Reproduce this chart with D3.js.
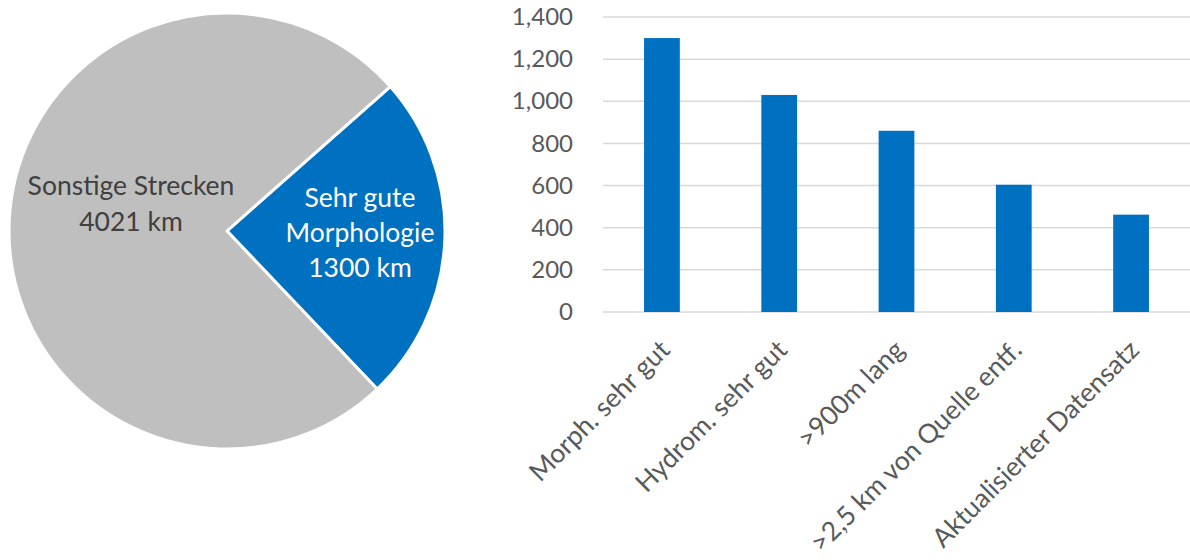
<!DOCTYPE html>
<html>
<head>
<meta charset="utf-8">
<script src="https://cdn.jsdelivr.net/npm/d3@7"></script>
<style>
  body { margin: 0; background: #fff; }
  text { font-family: Lato, "Open Sans", sans-serif; }
</style>
</head>
<body>
<div id="chart"></div>
<script>
// pie data
var pieLabels = [["Sehr gute", "Morphologie", "1300 km"], ["Sonstige Strecken", "4021 km"]];
var pieValues = [1300, 4021];
var pieColors = ["#0070c0", "#bfbfbf"];

// bar data
var barCategories = ["Morph. sehr gut", "Hydrom. sehr gut", ">900m lang", ">2,5 km von Quelle entf.", "Aktualisierter Datensatz"];
var barValues = [1300, 1030, 860, 604, 462];
var yTicks = [0, 200, 400, 600, 800, 1000, 1200, 1400];

var svgWidth = 1190;
var svgHeight = 560;

var svg = d3.select("#chart")
  .append("svg")
  .attr("width", svgWidth)
  .attr("height", svgHeight);

// ---- pie ----
var pieGroup = svg.append("g")
  .attr("transform", "translate(227, 231)");

var radius = 218;
var startDeg = 48.5;

var pie = d3.pie()
  .sort(null)
  .startAngle(startDeg * Math.PI / 180)
  .endAngle((startDeg + 360) * Math.PI / 180);

var arc = d3.arc().innerRadius(0).outerRadius(radius);

var slices = pie(pieValues);

pieGroup.selectAll(".slice")
  .data(slices)
  .enter()
  .append("path")
  .attr("class", "slice")
  .attr("d", arc)
  .attr("fill", (d, i) => pieColors[i])
  .attr("stroke", "#fff")
  .attr("stroke-width", 3)
  .attr("stroke-linejoin", "round");

// slice labels
var labelPos = [[133, -33], [-96, -45]];
var labelColors = ["#ffffff", "#404040"];
slices.forEach(function(d, i) {
  var lines = pieLabels[i];
  var lineH = i === 0 ? 35 : 36;
  var t = pieGroup.append("text")
    .attr("text-anchor", "middle")
    .attr("font-size", "26.5px")
    .attr("fill", labelColors[i]);
  lines.forEach(function(l, j) {
    t.append("tspan")
      .attr("x", labelPos[i][0])
      .attr("y", labelPos[i][1] + j * lineH)
      .attr("dy", "0.35em")
      .text(l);
  });
});

// ---- bar chart ----
var chartMargin = { top: 17, left: 603, right: 0, bottom: 248 };
var chartWidth = svgWidth - chartMargin.left - chartMargin.right;
var chartHeight = svgHeight - chartMargin.top - chartMargin.bottom;

var chartGroup = svg.append("g")
  .attr("transform", `translate(${chartMargin.left}, ${chartMargin.top})`);

var xBandScale = d3.scaleBand()
  .domain(barCategories)
  .range([0, chartWidth])
  .paddingInner(0.695)
  .paddingOuter(0.35);

var yLinearScale = d3.scaleLinear()
  .domain([0, 1400])
  .range([chartHeight, 0]);

// gridlines
chartGroup.selectAll(".grid")
  .data(yTicks)
  .enter()
  .append("line")
  .attr("class", "grid")
  .attr("x1", 0)
  .attr("x2", chartWidth)
  .attr("y1", d => yLinearScale(d))
  .attr("y2", d => yLinearScale(d))
  .attr("stroke", "#d9d9d9")
  .attr("stroke-width", 1.5);

// y tick labels
var leftAxis = d3.axisLeft(yLinearScale)
  .tickValues(yTicks)
  .tickFormat(d3.format(","))
  .tickSize(0)
  .tickPadding(30);

var yAxisG = chartGroup.append("g").call(leftAxis);
yAxisG.select(".domain").remove();
yAxisG.selectAll("text")
  .attr("font-size", "24px")
  .attr("font-family", "Lato, 'Open Sans', sans-serif")
  .attr("fill", "#595959");

// bars
chartGroup.selectAll(".bar")
  .data(barValues)
  .enter()
  .append("rect")
  .attr("class", "bar")
  .attr("x", (d, i) => xBandScale(barCategories[i]))
  .attr("y", d => yLinearScale(d))
  .attr("width", xBandScale.bandwidth())
  .attr("height", d => chartHeight - yLinearScale(d))
  .attr("fill", "#0070c0");

// x category labels, rotated
chartGroup.selectAll(".xlabel")
  .data(barCategories)
  .enter()
  .append("text")
  .attr("class", "xlabel")
  .attr("text-anchor", "end")
  .attr("font-size", "26.5px")
  .attr("fill", "#595959")
  .attr("dy", "0.35em")
  .attr("transform", d => `translate(${xBandScale(d) + xBandScale.bandwidth() / 2 + 3}, ${chartHeight + 33}) rotate(-45)`)
  .text(d => d);
</script>
</body>
</html>
